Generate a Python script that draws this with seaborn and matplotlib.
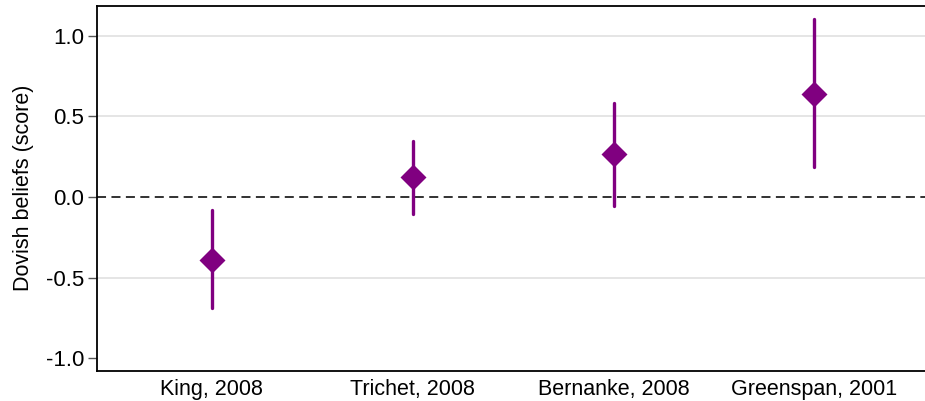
import matplotlib
matplotlib.use("Agg")
import matplotlib.pyplot as plt
import seaborn as sns
import pandas as pd

categories = ["King, 2008", "Trichet, 2008", "Bernanke, 2008", "Greenspan, 2001"]
estimates = [-0.39, 0.123, 0.265, 0.642]
ci_low = [-0.69, -0.105, -0.056, 0.185]
ci_high = [-0.08, 0.35, 0.586, 1.105]
yticks = [-1.0, -0.5, 0.0, 0.5, 1.0]
ytick_labels = ["-1.0", "-0.5", "0.0", "0.5", "1.0"]

rows = []
for c, e, lo, hi in zip(categories, estimates, ci_low, ci_high):
    for v in (lo, e, hi):
        rows.append({"speaker": c, "score": v})
df = pd.DataFrame(rows)

sns.set_theme(style="white")
plt.rcParams["font.family"] = ["Liberation Sans", "DejaVu Sans"]

fig = plt.figure(figsize=(9.25, 4.01), dpi=100)
ax = fig.add_axes([0.105, 0.076, 0.895, 0.909])

for y in [0.5, 1.0, -0.5]:
    ax.axhline(y, color="#e3e3e3", lw=1.3, zorder=0)
ax.axhline(0, color="#222222", lw=1.3, ls=(0, (5, 3)), zorder=1)

sns.pointplot(data=df, x="speaker", y="score", order=categories,
              estimator="median", errorbar=("pi", 100),
              linestyle="none", markers="D", color="#800080",
              markersize=11.5, err_kws={"linewidth": 2.4},
              ax=ax)

ax.set_xlim(-0.57, 3.55)
ax.set_ylim(-1.075, 1.185)
ax.set_yticks(yticks)
ax.set_yticklabels(ytick_labels)
ax.set_xlabel("")
ax.set_ylabel("Dovish beliefs (score)", fontsize=15.5, labelpad=8, color="black")
ax.tick_params(axis="y", which="both", left=True, length=6.5, width=1,
               color="#555555", labelsize=16, pad=3, labelcolor="black")
ax.tick_params(axis="x", bottom=False, labelsize=15.5, pad=0, labelcolor="black")
for s in ["left", "top", "bottom"]:
    ax.spines[s].set_color("black")
    ax.spines[s].set_linewidth(1.3)
ax.spines["right"].set_visible(False)

fig.savefig("out.png", dpi=100)
